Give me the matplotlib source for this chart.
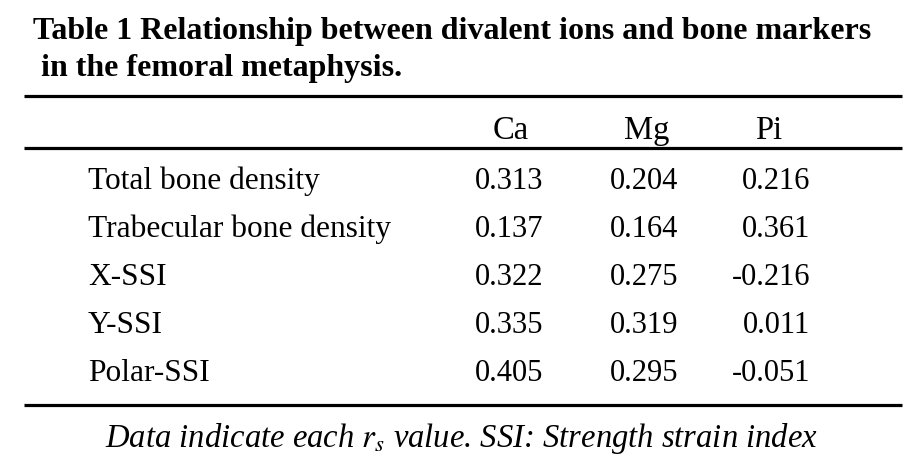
import matplotlib
matplotlib.use("Agg")
import matplotlib.pyplot as plt

plt.rcParams['font.family'] = ['Liberation Serif', 'DejaVu Serif']
plt.rcParams['mathtext.fontset'] = 'stix'

title_lines = ["Table 1 Relationship between divalent ions and bone markers",
               " in the femoral metaphysis."]
columns = ["Ca", "Mg", "Pi"]
row_labels = ["Total bone density", "Trabecular bone density", "X-SSI", "Y-SSI", "Polar-SSI"]
ca_values = ["0.313", "0.137", "0.322", "0.335", "0.405"]
mg_values = ["0.204", "0.164", "0.275", "0.319", "0.295"]
pi_values = ["0.216", "0.361", "-0.216", "0.011", "-0.051"]
footnote = r"Data indicate each $r_s$ value. SSI: Strength strain index"

W, H = 923, 464
fig = plt.figure(figsize=(W / 100, H / 100), dpi=100)
ax = fig.add_axes([0, 0, 1, 1])
ax.set_xlim(0, W)
ax.set_ylim(H, 0)
ax.axis('off')

# title
ax.text(33, 39, title_lines[0], fontsize=23, fontweight='bold', va='baseline', ha='left')
ax.text(33, 76, title_lines[1], fontsize=23, fontweight='bold', va='baseline', ha='left')

# rules
for y in (97, 149, 406):
    ax.plot([24, 902], [y, y], color='black', lw=2.3, solid_capstyle='butt')

# header
col_x = [511, 647, 769]
for x, c in zip(col_x, columns):
    ax.text(x, 139, c, fontsize=23.5, ha='center', va='baseline')

# body
value_right = [543, 678, 810]
for i, label in enumerate(row_labels):
    y = 189 + 48 * i
    ax.text(88, y, label, fontsize=22.6, ha='left', va='baseline')
    for xr, vals in zip(value_right, (ca_values, mg_values, pi_values)):
        ax.text(xr, y, vals[i], fontsize=22, ha='right', va='baseline')

# footnote
ax.text(461, 447, footnote, fontsize=23.5, style='italic', ha='center', va='baseline')

fig.savefig('out.png', dpi=100)
